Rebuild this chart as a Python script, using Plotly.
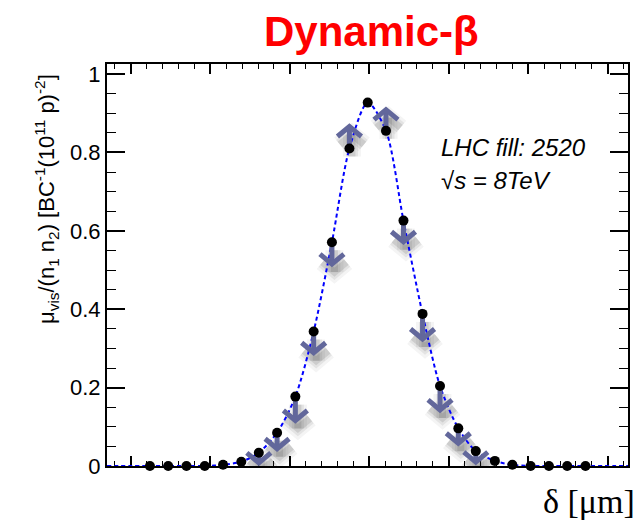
import plotly.graph_objects as go

# Beam separation of each scan step [um]
delta_um = [-276, -253, -230, -207, -184, -161, -139, -116, -93, -70, -47, -25, -2,
            21, 43, 67, 89, 112, 134, 158, 180, 203, 226, 249, 272]
# Specific visible interaction rate mu_vis/(n1 n2)
mu_spec = [0.0, 0.0, 0.0, 0.0, 0.003, 0.011, 0.034, 0.085, 0.177, 0.343, 0.571, 0.810, 0.927,
           0.855, 0.626, 0.388, 0.204, 0.096, 0.038, 0.013, 0.003, 0.0, 0.0, 0.0, 0.0]
# Dynamic-beta correction to each point (None: no arrow)
beta_shift = [None, None, None, None, None, None,
              -0.026, -0.041, -0.061, -0.054, -0.056, 0.056, None,
              0.054, -0.054, -0.064, -0.061, -0.038, -0.028,
              None, None, None, None, None, None]

X_RANGE = [-330.0, 325.5]
Y_RANGE = [0.0, 1.0255]
W, H = 642, 521
M = dict(l=107, r=14, t=64, b=55)
plot_w = W - M["l"] - M["r"]
plot_h = H - M["t"] - M["b"]
ux = (X_RANGE[1] - X_RANGE[0]) / plot_w   # data units per pixel
uy = (Y_RANGE[1] - Y_RANGE[0]) / plot_h

ARROW_COLOR = "#62679b"
head_w, head_h = 12 * ux, 10 * uy


def arrow_paths(dx=0.0, dy=0.0):
    xs, ys = [], []
    for x, y, s in zip(delta_um, mu_spec, beta_shift):
        if s is None:
            continue
        sign = 1 if s > 0 else -1
        tip = y + s
        xs += [x + dx, x + dx, None,
               x - head_w + dx, x + dx, x + head_w + dx, None]
        ys += [y + dy, tip + dy, None,
               tip - sign * head_h + dy, tip + dy, tip - sign * head_h + dy, None]
    return xs, ys


fig = go.Figure()

# soft shadow under the correction arrows
for width, alpha in [(18, 0.05), (12, 0.08), (7, 0.12)]:
    sx, sy = arrow_paths(dx=2.5 * ux, dy=-8 * uy)
    fig.add_trace(go.Scatter(x=sx, y=sy, mode="lines",
                             line=dict(color=f"rgba(40,40,40,{alpha})", width=width),
                             hoverinfo="skip", showlegend=False))

# fit curve through the scan points
fit_x = [X_RANGE[0]] + delta_um + [X_RANGE[1]]
fit_y = [0.0] + mu_spec + [0.0]
fig.add_trace(go.Scatter(x=fit_x, y=fit_y, mode="lines",
                         line=dict(color="#0000ff", width=2, dash="4px,3px",
                                   shape="spline", smoothing=0.8),
                         cliponaxis=False, showlegend=False))

# correction arrows
ax, ay = arrow_paths()
fig.add_trace(go.Scatter(x=ax, y=ay, mode="lines",
                         line=dict(color=ARROW_COLOR, width=5),
                         showlegend=False))

# scan points
fig.add_trace(go.Scatter(x=delta_um, y=mu_spec, mode="markers",
                         marker=dict(color="black", size=10),
                         cliponaxis=False, showlegend=False))

fig.update_layout(
    width=W, height=H, margin=M,
    paper_bgcolor="white", plot_bgcolor="white",
    font=dict(family="Liberation Sans, Arial, sans-serif", color="black"),
    xaxis=dict(range=X_RANGE, showgrid=False, zeroline=False,
               showline=True, linewidth=2, linecolor="black", mirror="allticks",
               ticks="inside", ticklen=10, tickwidth=1.5, tickcolor="black",
               tick0=0, dtick=100, showticklabels=False, layer="below traces",
               minor=dict(ticks="inside", dtick=20, ticklen=5, tickwidth=1.2,
                          tickcolor="black", showgrid=False)),
    yaxis=dict(range=Y_RANGE, showgrid=False, zeroline=False,
               showline=True, linewidth=2, linecolor="black", mirror="allticks",
               ticks="inside", ticklen=18, tickwidth=1.5, tickcolor="black",
               tick0=0, dtick=0.2, tickfont=dict(size=22),
               minor=dict(ticks="inside", dtick=0.05, ticklen=9, tickwidth=1.2,
                          tickcolor="black", showgrid=False)),
)


def px_x(p):
    return (p - M["l"]) / plot_w


def px_y(p):
    return (H - M["b"] - p) / plot_h


def note(text, x, y, xanchor="center", **font):
    fig.add_annotation(text=text, xref="paper", yref="paper",
                       x=px_x(x), y=px_y(y), xanchor=xanchor, yanchor="middle",
                       showarrow=False, font=font)


note("<b>Dynamic-β</b>", 371, 31, size=42, color="#ff0000",
     family="Liberation Sans, Arial, sans-serif")
fig.add_annotation(text="μ<sub>vis</sub>/(n<sub>1</sub> n<sub>2</sub>) [BC<sup>-1</sup>(10<sup>11</sup> p)<sup>-2</sup>]",
                   xref="paper", yref="paper", x=px_x(46), y=px_y(199),
                   xanchor="center", yanchor="middle",
                   textangle=-90, showarrow=False, font=dict(size=22))
note("δ [μm]", 637, 501, xanchor="right", size=34,
     family="Liberation Serif, Times New Roman, serif")
note("<i>LHC fill: 2520</i>", 439, 147, xanchor="left", size=24)
note("<i>√s = 8TeV</i>", 439, 180, xanchor="left", size=24)

fig.write_html("out.html")
